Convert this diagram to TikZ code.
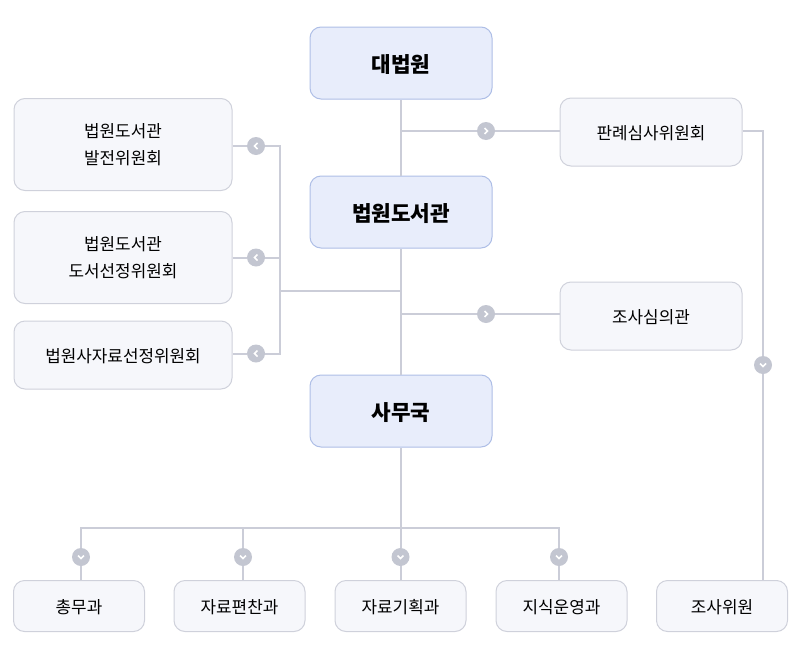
\documentclass[tikz,border=0pt]{standalone}
\usepackage{fontspec}
\setmainfont{Noto Sans CJK KR}
\usepackage{tikz}
\usepackage{xcolor}
\definecolor{line-gray}{HTML}{CBCDD8}
\definecolor{badge-gray}{HTML}{C3C6D1}
\definecolor{main-fill}{HTML}{E8EDFB}
\definecolor{main-edge}{HTML}{AEBEE6}
\definecolor{sub-fill}{HTML}{F6F7FB}
\definecolor{sub-edge}{HTML}{CFD1DB}
\tikzset{
    main-box/.style = {draw=main-edge, fill=main-fill, line width=1pt, rectangle, rounded corners=11pt, minimum width=182pt, minimum height=72pt, inner sep=0pt, text height=21.2pt, text depth=2pt, font=\fontsize{21.3}{24}\selectfont\bfseries},
    sub-box/.style = {draw=sub-edge, fill=sub-fill, line width=1pt, rectangle, rounded corners=11pt, inner sep=0pt, align=center, font=\fontsize{16.9}{27}\selectfont},
    one-line/.style = {text height=16.9pt, text depth=2pt},
    wide-box/.style = {sub-box, minimum width=218pt},
    side-box/.style = {sub-box, one-line, minimum width=182pt, minimum height=68pt},
    team-box/.style = {sub-box, one-line, minimum width=131pt, minimum height=51pt},
    link/.style = {draw=line-gray, line width=2pt},
    badge/.style = {circle, fill=badge-gray, minimum size=18pt, inner sep=0pt},
    badge-left/.style = {badge, path picture={\draw[white, line width=1.5pt] (1.5pt,-3pt) -- (-1.5pt,0pt) -- (1.5pt,3pt);}},
    badge-right/.style = {badge, path picture={\draw[white, line width=1.5pt] (-1.5pt,-3pt) -- (1.5pt,0pt) -- (-1.5pt,3pt);}},
    badge-down/.style = {badge, path picture={\draw[white, line width=1.5pt] (-3pt,1.5pt) -- (0pt,-1.5pt) -- (3pt,1.5pt);}},
}

\begin{document}
\begin{tikzpicture}[x=1pt, y=-1pt]
\useasboundingbox (0,0) rectangle (800,664);

% main column
\node [main-box] (court) at (401,63) {대법원};
\node [main-box] (library) at (401,212) {법원도서관};
\node [main-box] (office) at (401,411) {사무국};

% right column
\node [side-box] (precedent) at (651,132) {판례심사위원회};
\node [side-box] (review) at (651,316) {조사심의관};

% left column
\node [wide-box, minimum height=92pt] (develop) at (123,144.5) {법원도서관\\발전위원회};
\node [wide-box, minimum height=92pt] (select) at (123,257.5) {법원도서관\\도서선정위원회};
\node [wide-box, one-line, minimum height=68pt] (material) at (123,355) {법원사자료선정위원회};

% bottom row
\node [team-box] (general) at (79,606) {총무과};
\node [team-box] (compile) at (239.5,606) {자료편찬과};
\node [team-box] (plan) at (400.5,606) {자료기획과};
\node [team-box] (knowledge) at (561.5,606) {지식운영과};
\node [team-box] (research) at (722,606) {조사위원};

% badges
\node [badge-right] (to-precedent) at (486,131) {};
\node [badge-right] (to-review) at (486,314) {};
\node [badge-left] (to-develop) at (256,146) {};
\node [badge-left] (to-select) at (256,257.5) {};
\node [badge-left] (to-material) at (256,353.5) {};
\node [badge-down] (to-general) at (81,557) {};
\node [badge-down] (to-compile) at (243,557) {};
\node [badge-down] (to-plan) at (400.5,557) {};
\node [badge-down] (to-knowledge) at (559,557) {};
\node [badge-down] (to-research) at (763,365) {};

% junctions
\coordinate (left-bus) at (279.5,291);
\coordinate (team-bus) at (400.5,528);

% main column links
\draw [link] (court.south -| to-plan) -- (library.north -| to-plan);
\draw [link] (library.south -| to-plan) -- (office.north -| to-plan);
\draw [link] (office.south -| to-plan) -- (to-plan);

% right links
\draw [link] (to-plan |- to-precedent) -- (to-precedent) -- (precedent.west |- to-precedent);
\draw [link] (to-plan |- to-review) -- (to-review) -- (review.west |- to-review);
\draw [link] (precedent.east |- to-precedent) -| (to-research);
\draw [link] (to-research) -- (to-research |- research.north);

% left links
\draw [link] (to-plan |- left-bus) -- (left-bus);
\draw [link] (develop.east |- to-develop) -- (to-develop) -- (to-develop -| left-bus) -- (to-material -| left-bus) -- (to-material) -- (material.east |- to-material);
\draw [link] (select.east |- to-select) -- (to-select) -- (to-select -| left-bus);

% bottom links
\draw [link] (to-general) |- (to-knowledge |- team-bus) -- (to-knowledge);
\draw [link] (to-compile) -- (to-compile |- team-bus);
\draw [link] (to-general) -- (to-general |- general.north);
\draw [link] (to-compile) -- (to-compile |- compile.north);
\draw [link] (to-plan) -- (plan.north);
\draw [link] (to-knowledge) -- (to-knowledge |- knowledge.north);
\end{tikzpicture}
\end{document}
